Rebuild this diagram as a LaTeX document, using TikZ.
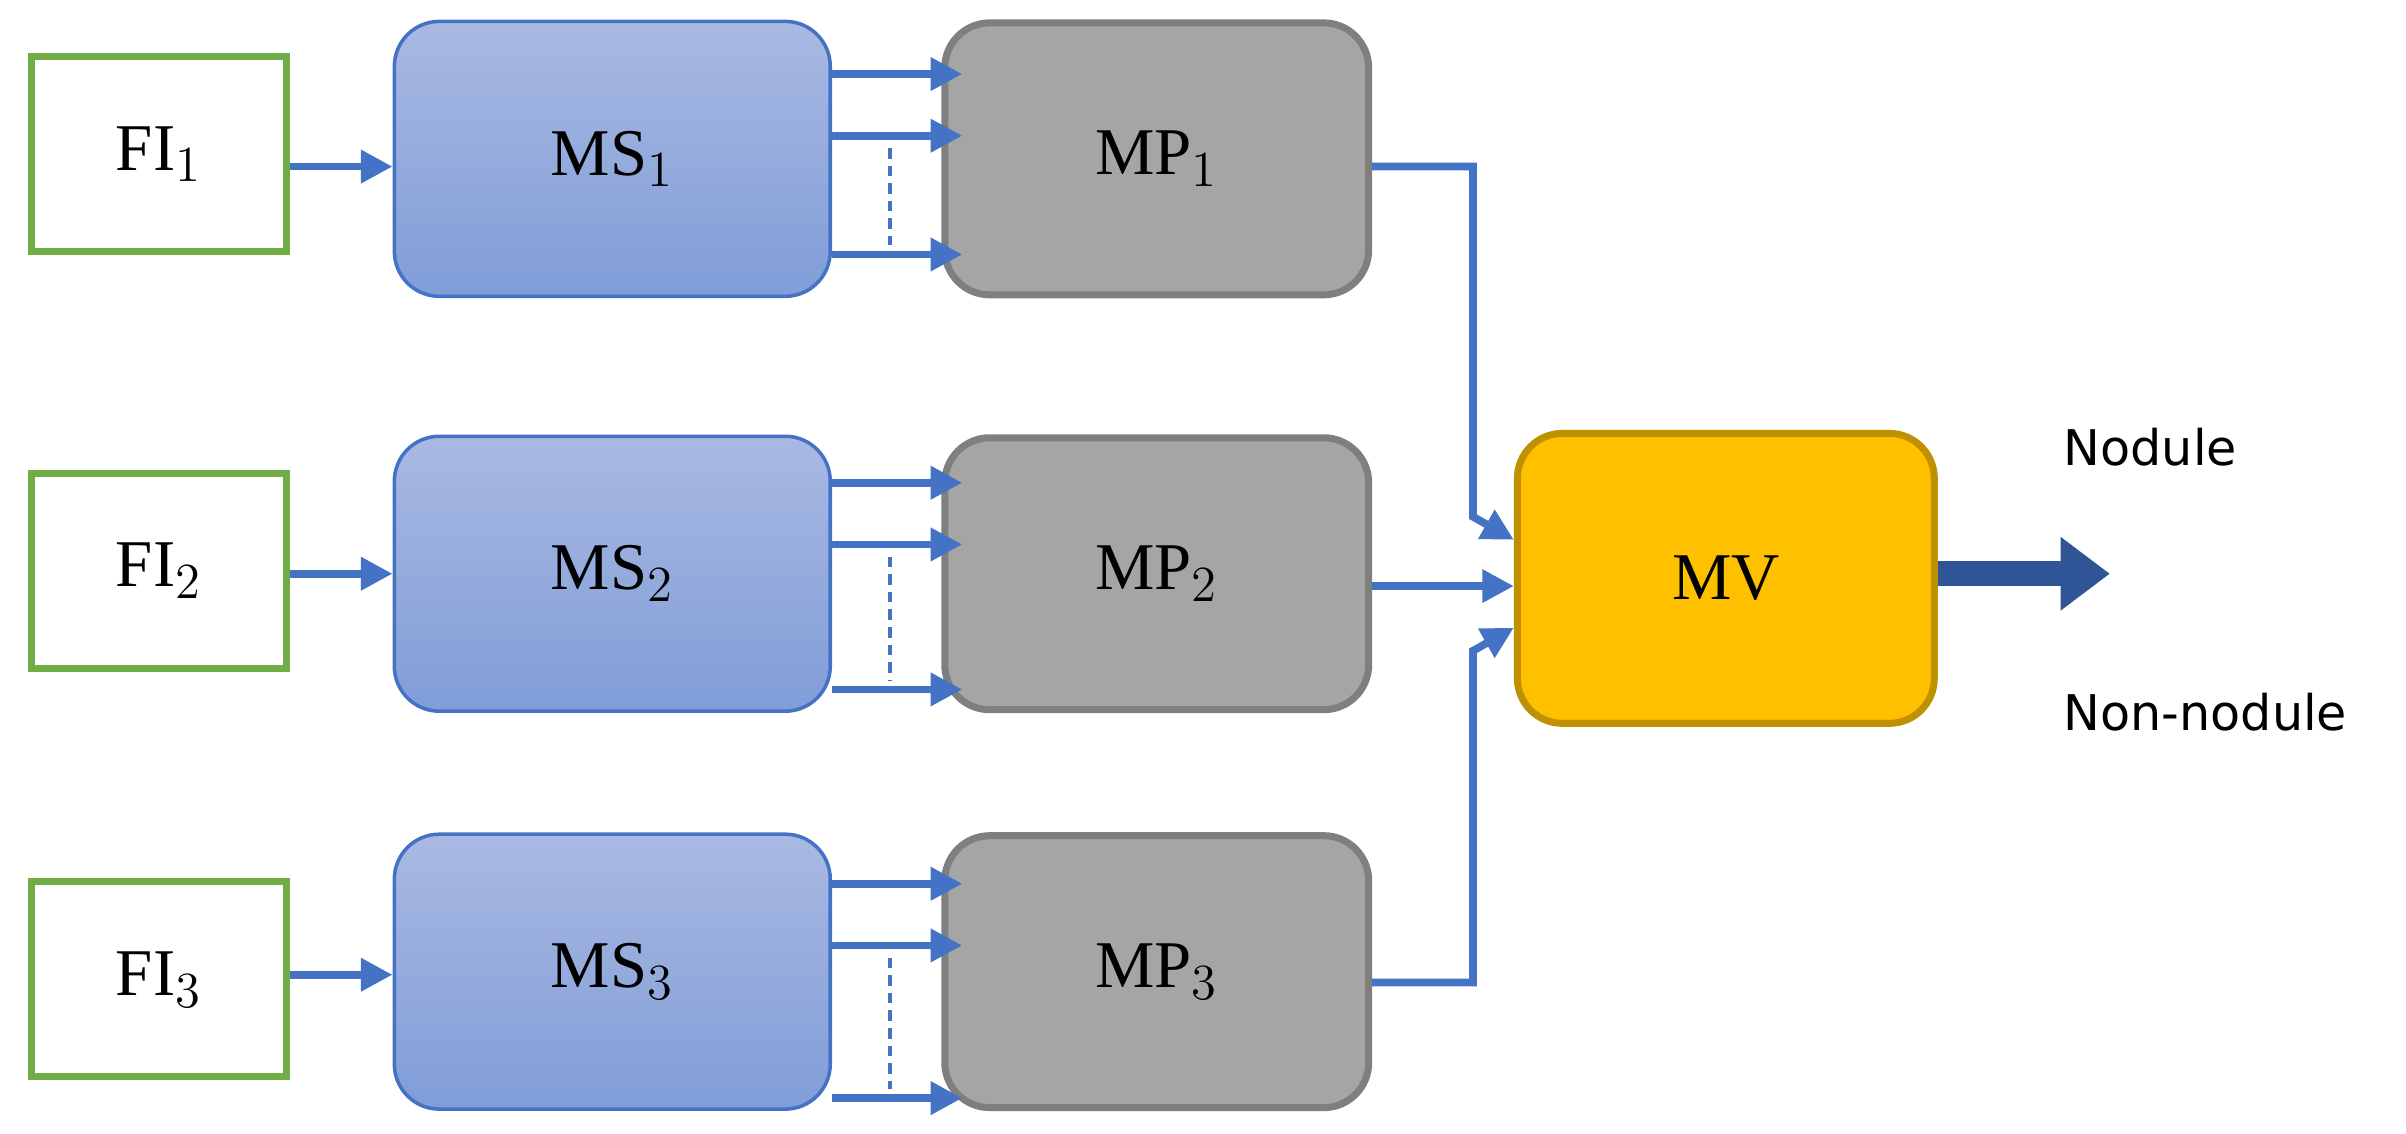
\documentclass[tikz,border=0pt]{standalone}
\usepackage{fontspec}
\setmainfont{Liberation Serif}
\newfontfamily\sansf{DejaVu Sans}
\usetikzlibrary{arrows.meta}
\definecolor{ab}{HTML}{4472C4}
\definecolor{msT}{HTML}{A9B9E2}
\definecolor{msB}{HTML}{809DD8}
\definecolor{mpf}{HTML}{A5A5A5}
\definecolor{mpb}{HTML}{7F7F7F}
\definecolor{mvf}{HTML}{FFC000}
\definecolor{mvb}{HTML}{BF9000}
\definecolor{fib}{HTML}{70AD47}
\definecolor{ob}{HTML}{2F5597}
\begin{document}
\begin{tikzpicture}[x=0.01542cm,y=-0.01542cm,
  lbl/.style={font=\fontsize{19}{22}\selectfont},
  fi/.style={lbl,draw=fib,line width=2pt,fill=white,minimum width=2.55cm,minimum height=1.95cm},
  ms/.style={lbl,draw=ab,line width=1pt,rounded corners=0.45cm,top color=msT,bottom color=msB,minimum width=4.36cm,minimum height=2.75cm},
  mp/.style={lbl,draw=mpb,line width=2pt,rounded corners=0.45cm,fill=mpf,minimum width=4.24cm,minimum height=2.72cm},
  mv/.style={lbl,draw=mvb,line width=2pt,rounded corners=0.45cm,fill=mvf,minimum width=4.17cm,minimum height=2.9cm},
  ar/.style={draw=ab,line width=2.2pt,-{Triangle[length=9pt,width=9pt]}},
  dsh/.style={draw=ab,line width=1pt,dash pattern=on 3pt off 2pt}]
\useasboundingbox (0,0) rectangle (1560,735);
\foreach \i/\yf/\yc in {1/100/103,2/370/372,3/635/630}{
  \node[fi] (fi\i) at (103,\yf) {FI$_{\i}$};
  \node[ms] (ms\i) at (397,\yc) {MS$_{\i}$};
  \node[mp] (mp\i) at (750,\yc) {MP$_{\i}$};
}
\node[mv] (mv) at (1119,375) {MV};
\draw[ar] (fi1.east |- 0,108) -- (ms1.west |- 0,108);
\draw[ar] (fi2.east |- 0,372) -- (ms2.west |- 0,372);
\draw[ar] (fi3.east |- 0,632) -- (ms3.west |- 0,632);
\foreach \i/\a/\b/\c in {1/48/88/165,2/313/353/447,3/573/613/712}{
  \draw[ar] (ms\i.east |- 0,\a) -- ([xshift=6pt]mp\i.west |- 0,\a);
  \draw[ar] (ms\i.east |- 0,\b) -- ([xshift=6pt]mp\i.west |- 0,\b);
  \draw[ar] (ms\i.east |- 0,\c) -- ([xshift=6pt]mp\i.west |- 0,\c);
  \pgfmathsetmacro\d{\b+8}\pgfmathsetmacro\e{\c-6}
  \draw[dsh] (577,\d) -- (577,\e);
}
\coordinate (k1) at (955,108);
\coordinate (k3) at (955,637);
\draw[ar] (mp1.east |- k1) -- (k1) -- (955,335) -- (mv.west |- 0,350);
\draw[ar] (mp2.east |- 0,380) -- (mv.west |- 0,380);
\draw[ar] (mp3.east |- k3) -- (k3) -- (955,422) -- (mv.west |- 0,407);
\coordinate (out) at (1368,372);
\draw[draw=ob,line width=7pt,-{Triangle[length=14pt,width=20pt]}] (mv.east |- out) -- (out);
\node[font=\sansf\fontsize{14}{16}\selectfont,anchor=west] (nod) at (1330,290) {Nodule};
\node[font=\sansf\fontsize{14}{16}\selectfont,anchor=west] (non) at (1330,462) {Non-nodule};
\end{tikzpicture}
\end{document}
